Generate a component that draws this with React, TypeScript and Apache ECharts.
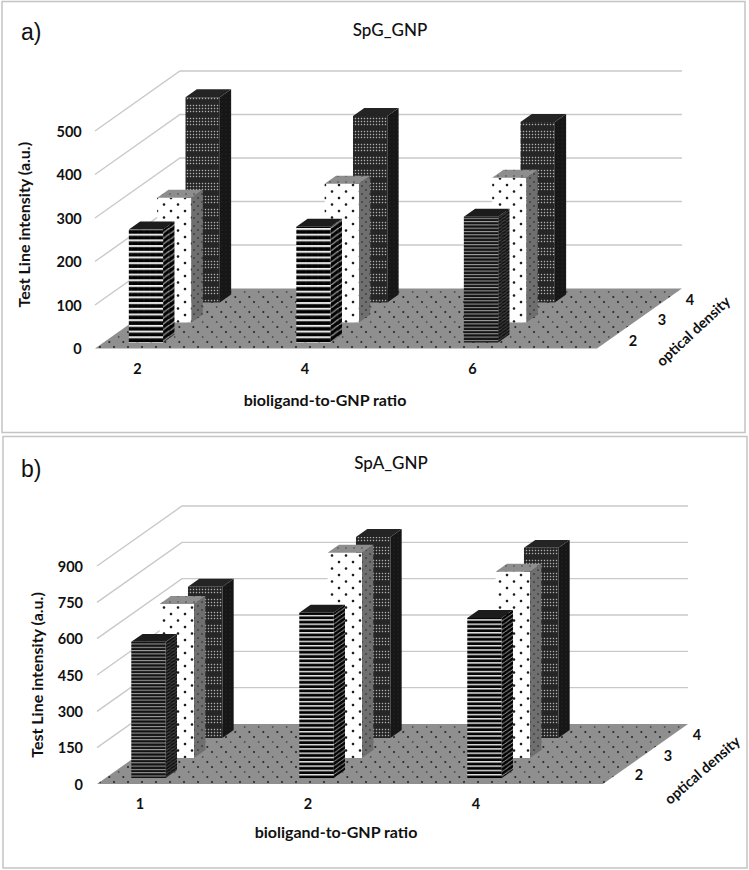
import React, { useEffect, useRef } from "react";
import * as echarts from "echarts";

const catsA = ["2", "4", "6"];
const od2A = [260, 266, 289];
const od3A = [287, 319, 333];
const od4A = [472, 429, 415];
const ticksA = [100, 200, 300, 400, 500];

const catsB = ["1", "2", "4"];
const od2B = [562, 682, 661];
const od3B = [636, 847, 769];
const od4B = [624, 830, 785];
const ticksB = [150, 300, 450, 600, 750, 900];

const depthLabels = ["2", "3", "4"];
const FONT = "Lato, 'Open Sans', sans-serif";
const SCALE = 4;

function tile(w: number, h: number, draw: (c: CanvasRenderingContext2D) => void) {
  const cv = document.createElement("canvas");
  cv.width = Math.round(w * SCALE);
  cv.height = Math.round(h * SCALE);
  const c = cv.getContext("2d") as CanvasRenderingContext2D;
  c.scale(cv.width / w, cv.height / h);
  draw(c);
  return { image: cv.toDataURL(), repeat: "repeat", imageWidth: w, imageHeight: h };
}
function dots(c: CanvasRenderingContext2D, pts: number[][], r: number, color: string) {
  c.fillStyle = color;
  pts.forEach(([x, y]) => {
    c.beginPath();
    c.arc(x, y, r, 0, Math.PI * 2);
    c.fill();
  });
}
function bg(c: CanvasRenderingContext2D, w: number, h: number, color: string) {
  c.fillStyle = color;
  c.fillRect(0, 0, w, h);
}
function stripeFront(period: number, white: number, dark: string, light: string) {
  return tile(6, period, (c) => {
    bg(c, 6, period, dark);
    c.fillStyle = light;
    c.fillRect(0, 0, 6, white);
  });
}
function stripeSide(period: number, white: number, dark: string, light: string) {
  const w = (period * 11.3) / 8;
  return tile(w, period, (c) => {
    bg(c, w, period, dark);
    c.fillStyle = light;
    for (let k = 0; k < 3; k++) {
      const y = k * period;
      c.beginPath();
      c.moveTo(0, y);
      c.lineTo(w, y - period);
      c.lineTo(w, y - period + white);
      c.lineTo(0, y + white);
      c.closePath();
      c.fill();
    }
  });
}

function makePatterns() {
  return {
    floor: tile(14, 15, (c) => {
      bg(c, 14, 15, "#8f8f8f");
      dots(c, [[2, 2], [11.33, 12]], 1.05, "#2e2e2e");
      dots(c, [[6.67, 7]], 0.85, "#4a4a4a");
    }),
    whiteFront: tile(14, 13, (c) => {
      bg(c, 14, 13, "#ffffff");
      dots(c, [[3, 3], [10, 9.5]], 1.3, "#1c1c1c");
    }),
    whiteSide: tile(8, 8, (c) => {
      bg(c, 8, 8, "#6f6f6f");
      dots(c, [[2, 2], [6, 6]], 0.9, "#3a3a3a");
    }),
    whiteTop: tile(8, 6, (c) => {
      bg(c, 8, 6, "#8e8e8e");
      dots(c, [[2, 2]], 0.8, "#555555");
    }),
    darkFront: tile(3, 13, (c) => {
      bg(c, 3, 13, "#262626");
      dots(c, [[1.5, 1.5], [1.5, 4.5], [1.5, 7.5]], 0.72, "#b0b0b0");
    }),
    darkSide: tile(4, 4, (c) => {
      bg(c, 4, 4, "#161616");
      dots(c, [[2, 2]], 0.6, "#2f2f2f");
    }),
    darkTop: "#242424",
    stripeTop: "#1c1c1c",
    coarseFront: stripeFront(5.7, 2.1, "#000000", "#f2f2f2"),
    coarseSide: stripeSide(5.7, 1.1, "#000000", "#d8d8d8"),
    midFront: stripeFront(4.3, 1.5, "#000000", "#e4e4e4"),
    midSide: stripeSide(4.3, 0.8, "#000000", "#cfcfcf"),
    fineFront: stripeFront(3.3, 1, "#111111", "#a8a8a8"),
    fineSide: stripeSide(3.3, 0.6, "#0c0c0c", "#7c7c7c"),
  };
}

const DEPTH = { x: 85, y: -60 };
const BAR_W = 0.205;
const BAR_D = 0.133;

function buildChart(
  P: any,
  idx: number,
  cats: string[],
  rows: number[][],
  ticks: number[],
  stripes: string[],
  floorL: number,
  floorR: number,
  yMax: number,
  yStep: number,
  grid: { left: number; top: number; width: number; height: number },
  yOffset: number,
  yNameGap: number,
  yNamePad: number,
  xNamePad: number,
  xNameGap: number
) {
  const baseAxis = { gridIndex: idx };
  const text = { fontFamily: FONT, fontWeight: 700, color: "#111", fontSize: 14.5 };

  const floor = {
    type: "custom",
    xAxisIndex: idx,
    yAxisIndex: idx,
    z: 1,
    silent: true,
    clip: false,
    data: [[0, 0]],
    renderItem: (_: any, api: any) => {
      const c = api.coord([0, 0]);
      const band = api.size([1, 0])[0];
      const l = c[0] + floorL * band;
      const r = c[0] + floorR * band;
      return {
        type: "polygon",
        shape: {
          points: [
            [l, c[1]],
            [r, c[1]],
            [r + DEPTH.x, c[1] + DEPTH.y],
            [l + DEPTH.x, c[1] + DEPTH.y],
          ],
        },
        style: { fill: P.floor },
      };
    },
  };

  const walls = {
    type: "custom",
    xAxisIndex: idx,
    yAxisIndex: idx,
    z: 2,
    silent: true,
    clip: false,
    data: ticks.map((t) => [0, t]),
    renderItem: (_: any, api: any) => {
      const c = api.coord([0, api.value(1)]);
      const band = api.size([1, 0])[0];
      const l = c[0] + floorL * band;
      const r = c[0] + floorR * band;
      return {
        type: "polyline",
        shape: {
          points: [
            [l, c[1]],
            [l + DEPTH.x, c[1] + DEPTH.y],
            [r + DEPTH.x, c[1] + DEPTH.y],
          ],
        },
        style: { fill: "none", stroke: "#c9c9c9", lineWidth: 1.4 },
      };
    },
  };

  const barSeries = (values: number[], d: number) => ({
    type: "custom",
    name: "optical density " + depthLabels[d],
    xAxisIndex: idx,
    yAxisIndex: idx,
    z: 5 - d,
    silent: true,
    clip: false,
    encode: { x: 0, y: 1 },
    data: values.map((v, i) => [i, v]),
    renderItem: (_: any, api: any) => {
      const i = api.value(0);
      const top = api.coord([i, api.value(1)]);
      const base = api.coord([i, 0]);
      const band = api.size([1, 0])[0];
      const f = 0.1 + d / 3;
      const x0 = top[0] - (BAR_W * band) / 2 + DEPTH.x * f;
      const x1 = x0 + BAR_W * band;
      const yT = top[1] + DEPTH.y * f;
      const yB = base[1] + DEPTH.y * f;
      const dx = DEPTH.x * BAR_D;
      const dy = DEPTH.y * BAR_D;
      let fills: any[];
      if (d === 0) {
        const s = stripes[i];
        fills = [P[s + "Front"], P[s + "Side"], P.stripeTop];
      } else if (d === 1) {
        fills = [P.whiteFront, P.whiteSide, P.whiteTop];
      } else {
        fills = [P.darkFront, P.darkSide, P.darkTop];
      }
      return {
        type: "group",
        children: [
          {
            type: "polygon",
            shape: { points: [[x0, yT], [x1, yT], [x1, yB], [x0, yB]] },
            style: { fill: fills[0] },
          },
          {
            type: "polygon",
            shape: { points: [[x1, yT], [x1 + dx, yT + dy], [x1 + dx, yB + dy], [x1, yB]] },
            style: { fill: fills[1] },
          },
          {
            type: "polygon",
            shape: { points: [[x0, yT], [x0 + dx, yT + dy], [x1 + dx, yT + dy], [x1, yT]] },
            style: { fill: fills[2] },
          },
        ],
      };
    },
  });

  return {
    grid: { ...grid, containLabel: false },
    xAxis: {
      ...baseAxis,
      type: "category",
      data: cats,
      name: "bioligand-to-GNP ratio",
      nameLocation: "middle",
      nameGap: xNameGap,
      nameTextStyle: { ...text, fontSize: 16, padding: [0, 0, 0, xNamePad] },
      axisLine: { show: false },
      axisTick: { show: false },
      splitLine: { show: false },
      axisLabel: { ...text, margin: 12 },
    },
    yAxis: {
      ...baseAxis,
      type: "value",
      min: 0,
      max: yMax,
      interval: yStep,
      offset: -yOffset,
      name: "Test Line intensity (a.u.)",
      nameLocation: "middle",
      nameGap: yNameGap,
      nameRotate: 90,
      nameTextStyle: { ...text, fontSize: 16, padding: [0, 0, 0, yNamePad] },
      axisLine: { show: false },
      axisTick: { show: false },
      splitLine: { show: false },
      axisLabel: { ...text, margin: 8 },
    },
    series: [floor, walls, barSeries(rows[2], 2), barSeries(rows[1], 1), barSeries(rows[0], 0)],
  };
}

function label(x: number, y: number, s: string, rotation = 0, size = 14.5) {
  return {
    type: "text",
    x,
    y,
    rotation,
    z: 20,
    style: {
      text: s,
      fontFamily: FONT,
      fontWeight: 700,
      fontSize: size,
      fill: "#111",
      align: "center",
      textAlign: "center",
      verticalAlign: "middle",
      textVerticalAlign: "middle",
    },
  };
}

export default function App() {
  const ref = useRef<HTMLDivElement>(null);
  useEffect(() => {
    const chart = echarts.init(ref.current as HTMLDivElement, undefined, { renderer: "svg" });
    const P = makePatterns();
    const a = buildChart(
      P, 0, catsA, [od2A, od3A, od4A], ticksA, ["coarse", "coarse", "fine"],
      -0.254, 2.743, 500, 100,
      { left: 53.75, top: 131, width: 502.5, height: 217.5 }, 36, 58, 30, 40, 43
    );
    const b = buildChart(
      P, 1, catsB, [od2B, od3B, od4B], ticksB, ["fine", "mid", "mid"],
      -0.256, 2.756, 900, 150,
      { left: 56, top: 566, width: 504, height: 218 }, 35, 47, 0, 56, 39
    );
    const titleStyle = { fontFamily: FONT, fontWeight: 500, fontSize: 17, color: "#111" };
    const panelStyle = { fontFamily: "'Liberation Sans', sans-serif", fontWeight: 400, fontSize: 23, color: "#111" };
    chart.setOption({
      animation: false,
      backgroundColor: "#ffffff",
      title: [
        { text: "SpG_GNP", left: 385, top: 24, textAlign: "center", textVerticalAlign: "middle", textStyle: titleStyle },
        { text: "SpA_GNP", left: 386, top: 457, textAlign: "center", textVerticalAlign: "middle", textStyle: titleStyle },
        { text: "a)", left: 16, top: 15, textStyle: panelStyle },
        { text: "b)", left: 16, top: 452, textStyle: panelStyle },
      ],
      grid: [a.grid, b.grid],
      xAxis: [a.xAxis, b.xAxis],
      yAxis: [a.yAxis, b.yAxis],
      series: [...a.series, ...b.series],
      graphic: [
        { type: "rect", z: -1, shape: { x: 2, y: 1.5, width: 743, height: 431 }, style: { fill: "none", stroke: "#c4c4c4", lineWidth: 1.5 } },
        { type: "rect", z: -1, shape: { x: 3, y: 436.5, width: 744, height: 431.5 }, style: { fill: "none", stroke: "#c4c4c4", lineWidth: 1.5 } },
        label(633, 340, depthLabels[0]),
        label(662, 319, depthLabels[1]),
        label(690, 299, depthLabels[2]),
        label(693, 331, "optical density", 0.75),
        label(639, 774, depthLabels[0]),
        label(668, 755, depthLabels[1]),
        label(697, 734, depthLabels[2]),
        label(702, 770, "optical density", 0.72),
      ],
    });
    return () => chart.dispose();
  }, []);
  return <div ref={ref} style={{ position: "absolute", left: 0, top: 0, width: 749, height: 870 }} />;
}
